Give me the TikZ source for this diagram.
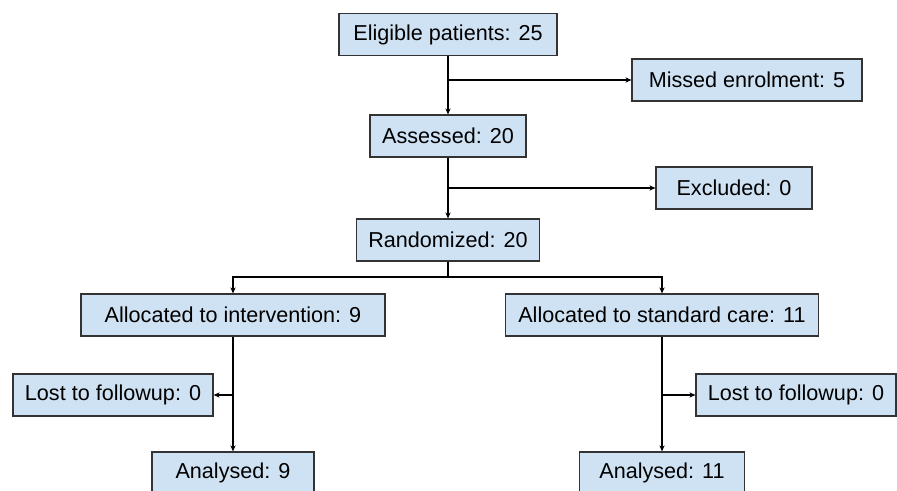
\documentclass[tikz,border=0pt]{standalone}
\usepackage{fontspec}
\setmainfont{Liberation Sans}
\usetikzlibrary{arrows.meta}
\definecolor{boxfill}{HTML}{CFE2F3}
\definecolor{boxline}{HTML}{333333}
\begin{document}
\begin{tikzpicture}[x=0.5pt,y=-0.5pt,
  box/.style={draw=boxline,fill=boxfill,line width=0.6pt,minimum height=21pt,inner sep=0pt,
    font=\fontsize{10.8}{13}\selectfont},
  conn/.style={draw=black,line width=0.6pt,-{Stealth[length=3pt,width=2.6pt]}},
  plain/.style={draw=black,line width=0.6pt}]
\useasboundingbox (0,0) rectangle (897,491);
\clip (0,0) rectangle (897,491);
\fill[white] (0,0) rectangle (897,491);
\node[box,minimum width=109pt] (elig) at (448,34.5) {Eligible patients: 25};
\node[box,minimum width=115pt] (miss) at (747,80) {Missed enrolment: 5};
\node[box,minimum width=78pt] (ass) at (448,136) {Assessed: 20};
\node[box,minimum width=78pt] (excl) at (734,188) {Excluded: 0};
\node[box,minimum width=91.5pt] (rand) at (448,240) {Randomized: 20};
\node[box,minimum width=152pt] (al1) at (233,315) {Allocated to intervention: 9};
\node[box,minimum width=156.5pt] (al2) at (662,315) {Allocated to standard care: 11};
\node[box,minimum width=100pt] (lost1) at (113,395) {Lost to followup: 0};
\node[box,minimum width=100pt] (lost2) at (796,395) {Lost to followup: 0};
\node[box,minimum width=81pt] (an1) at (233,473) {Analysed: 9};
\node[box,minimum width=82.5pt] (an2) at (662,473) {Analysed: 11};
\coordinate (split) at (448,277);
\draw[conn] (elig.south) -- (ass.north);
\draw[conn] (elig.south |- miss.west) -- (miss.west);
\draw[conn] (ass.south) -- (rand.north);
\draw[conn] (ass.south |- excl.west) -- (excl.west);
\draw[plain] (rand.south) -- (split);
\draw[conn] (split) -| (al1.north);
\draw[conn] (split) -| (al2.north);
\draw[conn] (al1.south) -- (an1.north);
\draw[conn] (al1.south |- lost1.east) -- (lost1.east);
\draw[conn] (al2.south) -- (an2.north);
\draw[conn] (al2.south |- lost2.west) -- (lost2.west);
\end{tikzpicture}
\end{document}
